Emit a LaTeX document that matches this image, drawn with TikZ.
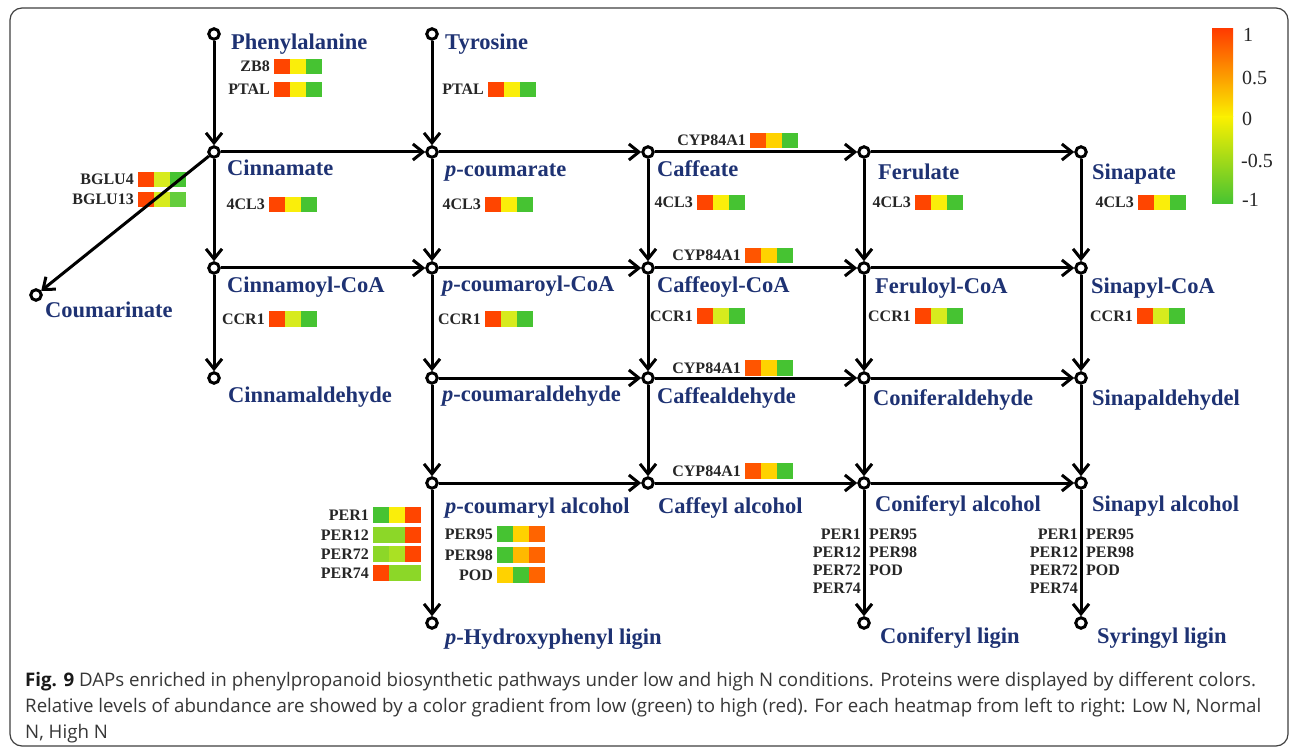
\documentclass[tikz,border=0pt]{standalone}
\usepackage{fontspec}
\setmainfont{Liberation Serif}
\newfontfamily\capfont{Open Sans}
\usetikzlibrary{arrows.meta}
\definecolor{navy}{RGB}{30,50,115}
\definecolor{hR}{RGB}{255,69,0}
\definecolor{hRO}{RGB}{255,85,0}
\definecolor{hY}{RGB}{250,238,10}
\definecolor{hG}{RGB}{70,195,50}
\definecolor{hG2}{RGB}{100,205,60}
\definecolor{hYG}{RGB}{215,235,30}
\definecolor{hLG}{RGB}{140,215,40}
\definecolor{hLY}{RGB}{170,225,35}
\definecolor{hGO}{RGB}{255,210,0}
\definecolor{hO}{RGB}{255,100,0}
\definecolor{hAM}{RGB}{255,185,0}
\definecolor{capgray}{RGB}{55,55,55}
\newcommand{\hmap}[6]{%
  \fill[#4] (#1,#2) rectangle ++(16,15.5);
  \fill[#5] (#1+16,#2) rectangle ++(16,15.5);
  \fill[#6] (#1+32,#2) rectangle ++(16,15.5);
  \node[sm, anchor=base east] at (#1-4,#2+13) {#3};}
\tikzset{
  met/.style={circle, draw=black, line width=3pt, minimum size=10.5pt, inner sep=0pt},
  arr/.style={line width=3pt, -{Straight Barb[length=10pt,width=16pt]}},
  lbl/.style={font=\fontsize{22.5}{24}\selectfont\bfseries, text=navy, anchor=base west, inner sep=0pt},
  sm/.style={font=\fontsize{16}{17}\selectfont\bfseries, text=black!85, inner sep=0pt},
  cbtxt/.style={font=\fontsize{20}{22}\selectfont, text=black!85, anchor=base west, inner sep=0pt},
  captxt/.style={font=\capfont\fontsize{18.7}{20}\selectfont, text=capgray, anchor=base west, inner sep=0pt}
}
\begin{document}
\begin{tikzpicture}[x=1pt,y=-1pt]
\useasboundingbox (0,0) rectangle (1295,751);
\fill[white] (0,0) rectangle (1295,751);
\draw[line width=1.2pt, black!75, rounded corners=12pt] (10,8) rectangle (1288,746);

% heatmaps
\hmap{274}{59}{ZB8}{hR}{hY}{hG}
\hmap{274}{82}{PTAL}{hR}{hY}{hG}
\hmap{488}{82}{PTAL}{hR}{hY}{hG}
\hmap{138}{172}{BGLU4}{hR}{hYG}{hG}
\hmap{138}{192}{BGLU13}{hR}{hYG}{hG2}
\hmap{269}{197}{4CL3}{hR}{hY}{hG}
\hmap{485}{197}{4CL3}{hR}{hY}{hG}
\hmap{697}{195}{4CL3}{hR}{hY}{hG}
\hmap{915}{195}{4CL3}{hR}{hY}{hG}
\hmap{1138}{195}{4CL3}{hR}{hY}{hG}
\hmap{750}{133}{CYP84A1}{hRO}{hGO}{hG}
\hmap{745}{248}{CYP84A1}{hRO}{hGO}{hG}
\hmap{745}{360}{CYP84A1}{hRO}{hGO}{hG}
\hmap{745}{463}{CYP84A1}{hRO}{hGO}{hG}
\hmap{269}{311}{CCR1}{hR}{hYG}{hG}
\hmap{485}{311}{CCR1}{hR}{hYG}{hG}
\hmap{697}{308}{CCR1}{hR}{hYG}{hG}
\hmap{915}{308}{CCR1}{hR}{hYG}{hG}
\hmap{1137}{308}{CCR1}{hR}{hYG}{hG}
\hmap{373}{507}{PER1}{hG}{hY}{hR}
\hmap{373}{527}{PER12}{hLG}{hLG}{hR}
\hmap{373}{546}{PER72}{hLG}{hLY}{hR}
\hmap{373}{565}{PER74}{hR}{hLG}{hLG}
\hmap{497}{526}{PER95}{hG}{hGO}{hO}
\hmap{497}{547}{PER98}{hG}{hAM}{hO}
\hmap{497}{567}{POD}{hGO}{hG}{hO}

% metabolite circles
\node[met] (phe) at (214,34) {};
\node[met] (tyr) at (432,34) {};
\node[met] (c11) at (214,152) {};
\node[met] (c21) at (432,152) {};
\node[met] (c31) at (648,152) {};
\node[met] (c41) at (864,152) {};
\node[met] (c51) at (1081,152) {};
\node[met] (c12) at (214,268) {};
\node[met] (c22) at (432,268) {};
\node[met] (c32) at (648,268) {};
\node[met] (c42) at (864,268) {};
\node[met] (c52) at (1081,268) {};
\node[met] (c13) at (214,378) {};
\node[met] (c23) at (432,378) {};
\node[met] (c33) at (648,378) {};
\node[met] (c43) at (864,378) {};
\node[met] (c53) at (1081,378) {};
\node[met] (c24) at (432,483) {};
\node[met] (c34) at (648,483) {};
\node[met] (c44) at (864,483) {};
\node[met] (c54) at (1081,483) {};
\node[met] (c25) at (432,623) {};
\node[met] (c45) at (864,623) {};
\node[met] (c55) at (1081,623) {};
\node[met] (cou) at (36,295) {};

% arrows
\foreach \a/\b in {phe/c11,c11/c12,c12/c13,tyr/c21,c21/c22,c22/c23,c23/c24,c24/c25,
  c31/c32,c32/c33,c33/c34,c41/c42,c42/c43,c43/c44,c44/c45,c51/c52,c52/c53,c53/c54,c54/c55,
  c11/c21,c21/c31,c31/c41,c41/c51,c12/c22,c22/c32,c32/c42,c42/c52,
  c23/c33,c33/c43,c43/c53,c24/c34,c34/c44,c44/c54,c11/cou}
  \draw[arr] (\a) -- (\b);

% labels
\node[lbl] (l-phe) at (231,50) {Phenylalanine};
\node[lbl] (l-tyr) at (445,50) {Tyrosine};
\node[lbl] (l11) at (227,176) {Cinnamate};
\node[lbl] (l21) at (445,177) {\itshape p\upshape-coumarate};
\node[lbl] (l31) at (657,177) {Caffeate};
\node[lbl] (l41) at (878,180) {Ferulate};
\node[lbl] (l51) at (1092,180) {Sinapate};
\node[lbl] (l12) at (227,292) {Cinnamoyl-CoA};
\node[lbl] (l22) at (442,291) {\itshape p\upshape-coumaroyl-CoA};
\node[lbl] (l32) at (657,292) {Caffeoyl-CoA};
\node[lbl] (l42) at (875,294) {Feruloyl-CoA};
\node[lbl] (l52) at (1091,293) {Sinapyl-CoA};
\node[lbl] (l13) at (228,402) {Cinnamaldehyde};
\node[lbl] (l23) at (442,401) {\itshape p\upshape-coumaraldehyde};
\node[lbl] (l33) at (657,403) {Caffealdehyde};
\node[lbl] (l43) at (873,405) {Coniferaldehyde};
\node[lbl] (l53) at (1092,405) {Sinapaldehydel};
\node[lbl] (l24) at (445,513) {\itshape p\upshape-coumaryl alcohol};
\node[lbl] (l34) at (658,513) {Caffeyl alcohol};
\node[lbl] (l44) at (875,511) {Coniferyl alcohol};
\node[lbl] (l54) at (1092,511) {Sinapyl alcohol};
\node[lbl] (l25) at (445,644) {\itshape p\upshape-Hydroxyphenyl ligin};
\node[lbl] (l45) at (880,643) {Coniferyl ligin};
\node[lbl] (l55) at (1097,643) {Syringyl ligin};
\node[lbl] (lcou) at (45,317) {Coumarinate};

% peroxidase lists
\node[sm, anchor=base east] (p41) at (861,539) {PER1};
\node[sm, anchor=base east] (p42) at (861,557) {PER12};
\node[sm, anchor=base east] (p43) at (861,575) {PER72};
\node[sm, anchor=base east] (p44) at (861,593) {PER74};
\node[sm, anchor=base west] (p45) at (869,539) {PER95};
\node[sm, anchor=base west] (p46) at (869,557) {PER98};
\node[sm, anchor=base west] (p47) at (869,575) {POD};
\node[sm, anchor=base east] (p51) at (1078,539) {PER1};
\node[sm, anchor=base east] (p52) at (1078,557) {PER12};
\node[sm, anchor=base east] (p53) at (1078,575) {PER72};
\node[sm, anchor=base east] (p54) at (1078,593) {PER74};
\node[sm, anchor=base west] (p55) at (1086,539) {PER95};
\node[sm, anchor=base west] (p56) at (1086,557) {PER98};
\node[sm, anchor=base west] (p57) at (1086,575) {POD};

% colour bar
\shade[top color={rgb,255:red,255;green,60;blue,0}, middle color={rgb,255:red,255;green,150;blue,0}, bottom color={rgb,255:red,250;green,240;blue,0}] (1212,29) rectangle (1233,117);
\shade[top color={rgb,255:red,250;green,240;blue,0}, middle color={rgb,255:red,170;green,220;blue,30}, bottom color={rgb,255:red,70;green,195;blue,50}] (1212,117) rectangle (1233,204);
\node[cbtxt] (cb1) at (1243,42) {1};
\node[cbtxt] (cb2) at (1242,85) {0.5};
\node[cbtxt] (cb3) at (1242,126) {0};
\node[cbtxt] (cb4) at (1241,168) {-0.5};
\node[cbtxt] (cb5) at (1242,207) {-1};

% caption
\node[captxt] (cap1) at (25,686) {{\bfseries\color{black!90}Fig. 9} DAPs enriched in phenylpropanoid biosynthetic pathways under low and high N conditions. Proteins were displayed by different colors.};
\node[captxt] (cap2) at (25,712) {Relative levels of abundance are showed by a color gradient from low (green) to high (red). For each heatmap from left to right: Low N, Normal};
\node[captxt] (cap3) at (25,738) {N, High N};
\end{tikzpicture}
\end{document}
